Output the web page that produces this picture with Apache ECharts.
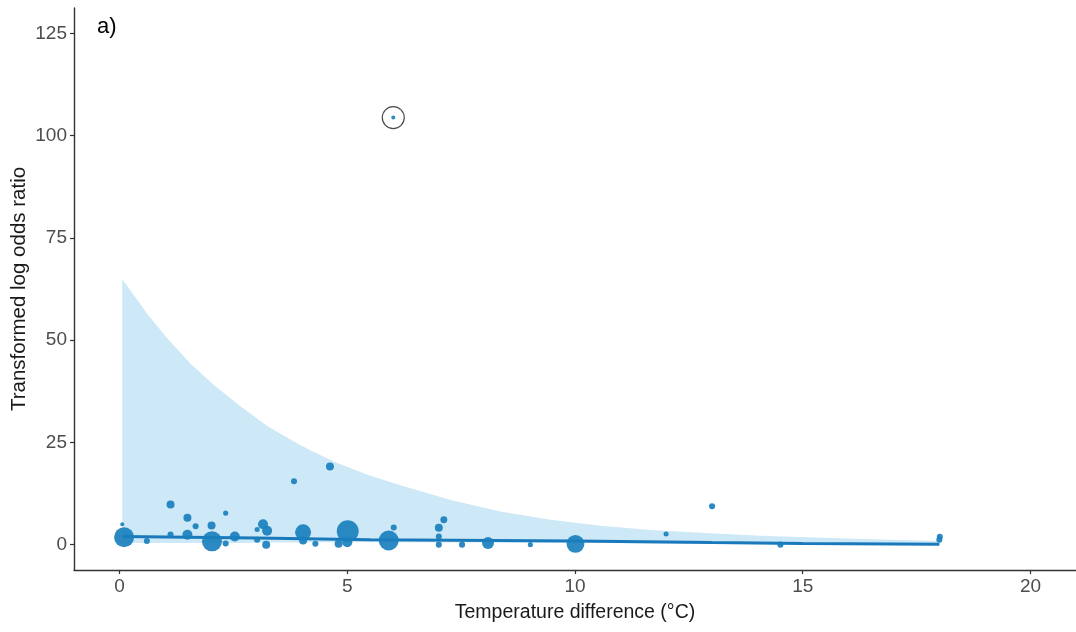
<!DOCTYPE html>
<html>
<head>
<meta charset="utf-8">
<script src="https://cdn.jsdelivr.net/npm/echarts@6/dist/echarts.min.js"></script>
<style>
  html, body { margin: 0; padding: 0; background: #ffffff; }
  #chart { width: 1076px; height: 632px; }
</style>
</head>
<body>
<div id="chart"></div>
<script>
// Study effects: temperature difference (°C), transformed log odds ratio, study weight
const effectTemp = [0.06, 0.1, 0.6, 1.12, 1.12, 1.49, 1.67, 1.49, 2.02, 2.03, 2.33, 2.33, 2.53, 3.02, 3.15, 3.24, 3.02, 3.22,
  3.83, 4.03, 4.03, 4.3, 4.62, 4.81, 5.01, 5.0, 5.91, 6.02, 6.01, 7.12, 7.01, 7.01, 7.01, 7.52, 8.09, 9.02, 10.01,
  12.0, 13.01, 14.51, 18.01, 18.0];
const effectLOR = [5.0, 1.8, 0.9, 9.8, 2.5, 6.6, 4.5, 2.4, 4.7, 0.8, 7.7, 0.3, 2.0, 3.7, 5.0, 3.4, 1.2, 0.0,
  15.5, 3.0, 1.0, 0.2, 19.1, 0.2, 3.3, 0.6, 1.0, 4.2, 104.4, 6.1, 4.1, 2.0, 0.0, 0.0, 0.4, 0.0, 0.2,
  2.6, 9.4, 0.0, 1.9, 1.2];
const effectWeight = [1, 25, 2.3, 4, 2.3, 4, 2.3, 6.3, 4, 25, 1.6, 2.3, 6.3, 1.6, 6.3, 6.3, 2.3, 4,
  2.3, 16, 4, 2.3, 4, 4, 30, 6.3, 25, 2.3, 1, 3, 4, 2.3, 2.3, 2.3, 9, 1.6, 20,
  1.6, 2.3, 2.3, 2.3, 2.3];

// Highlighted outlier study
const outlierTemp = [6.01];
const outlierLOR = [104.4];

// Fitted meta-regression curve
const fitTemp = [0.06, 3, 5.5, 10, 13, 15, 18];
const fitLOR = [2.0, 1.6, 1.2, 0.9, 0.5, 0.3, 0.1];

// Confidence band around the fit
const bandTemp = [0.06, 0.61, 1.05, 1.56, 2.07, 2.66, 3.24, 3.97, 4.70, 5.44, 6.17, 7.27, 8.36, 9.46, 10.56, 11.66, 12.75, 14.07, 16.3, 18.0];
const bandUpper = [64.9, 56.4, 50.4, 44.2, 39.0, 33.8, 29.0, 24.3, 20.3, 17.1, 14.5, 10.9, 8.1, 6.1, 4.6, 3.6, 2.9, 2.2, 1.4, 0.9];
const bandLower = [0.4, 0.4, 0.4, 0.4, 0.4, 0.4, 0.5, 0.5, 0.6, 0.6, 0.6, 0.5, 0.5, 0.4, 0.4, 0.3, 0.2, 0.1, 0.0, 0.0];

// Axis ticks
const xTicks = [0, 5, 10, 15, 20];
const yTicks = [0, 25, 50, 75, 100, 125];

const chart = echarts.init(document.getElementById('chart'), null, { renderer: 'canvas' });

const pointData = effectTemp.map((t, i) => [t, effectLOR[i], effectWeight[i]]);
const outlierData = outlierTemp.map((t, i) => [t, outlierLOR[i]]);
const fitData = fitTemp.map((t, i) => [t, fitLOR[i]]);

const fontFamily = 'Liberation Sans, Arial, sans-serif';
const tickLabelStyle = { color: '#4d4d4d', fontSize: 19, fontFamily: fontFamily };

chart.setOption({
  animation: false,
  backgroundColor: '#ffffff',
  grid: { left: 74, right: 0, top: 8, bottom: 62, outerBoundsMode: 'none', containLabel: false },
  xAxis: {
    type: 'value',
    min: -1,
    max: 21,
    name: 'Temperature difference (°C)',
    nameLocation: 'middle',
    nameGap: 33,
    nameMoveOverlap: false,
    nameTextStyle: { color: '#1a1a1a', fontSize: 19.5, fontFamily: fontFamily },
    axisLine: { show: true, onZero: false, lineStyle: { color: '#333333', width: 1.4 } },
    axisTick: { show: true, length: 4, customValues: xTicks, lineStyle: { color: '#333333', width: 1.2 } },
    axisLabel: { customValues: xTicks, margin: 7, ...tickLabelStyle },
    splitLine: { show: false }
  },
  yAxis: {
    type: 'value',
    min: -6.2,
    max: 131.2,
    name: 'Transformed log odds ratio',
    nameLocation: 'middle',
    nameGap: 44,
    nameMoveOverlap: false,
    nameTextStyle: { color: '#1a1a1a', fontSize: 20.5, fontFamily: fontFamily },
    axisLine: { show: true, onZero: false, lineStyle: { color: '#333333', width: 1.4 } },
    axisTick: { show: true, length: 4, customValues: yTicks, lineStyle: { color: '#333333', width: 1.2 } },
    axisLabel: { customValues: yTicks, margin: 7, ...tickLabelStyle },
    splitLine: { show: false }
  },
  graphic: [{
    type: 'text',
    left: 97,
    top: 16,
    style: { text: 'a)', fill: '#000000', fontSize: 22, fontFamily: fontFamily }
  }],
  series: [
    {
      // confidence band drawn as one polygon in data coordinates
      type: 'custom',
      data: [[0, 0]],
      z: 1,
      silent: true,
      renderItem: function (params, api) {
        const pts = [];
        for (let i = 0; i < bandTemp.length; i++) pts.push(api.coord([bandTemp[i], bandUpper[i]]));
        for (let i = bandTemp.length - 1; i >= 0; i--) pts.push(api.coord([bandTemp[i], bandLower[i]]));
        return { type: 'polygon', shape: { points: pts }, style: { fill: '#cde8f7' } };
      }
    },
    {
      type: 'line',
      data: fitData,
      z: 2,
      showSymbol: false,
      smooth: false,
      lineStyle: { color: '#1a79bb', width: 3 }
    },
    {
      type: 'scatter',
      data: pointData,
      z: 3,
      symbol: 'circle',
      symbolSize: function (v) { return 4 * Math.sqrt(v[2]); },
      itemStyle: { color: '#1a7fbd', opacity: 0.92 }
    },
    {
      type: 'scatter',
      data: outlierData,
      z: 4,
      symbol: 'circle',
      symbolSize: 22,
      itemStyle: { color: 'rgba(0,0,0,0)', borderColor: '#222222', borderWidth: 1.2 }
    }
  ]
});
</script>
</body>
</html>
